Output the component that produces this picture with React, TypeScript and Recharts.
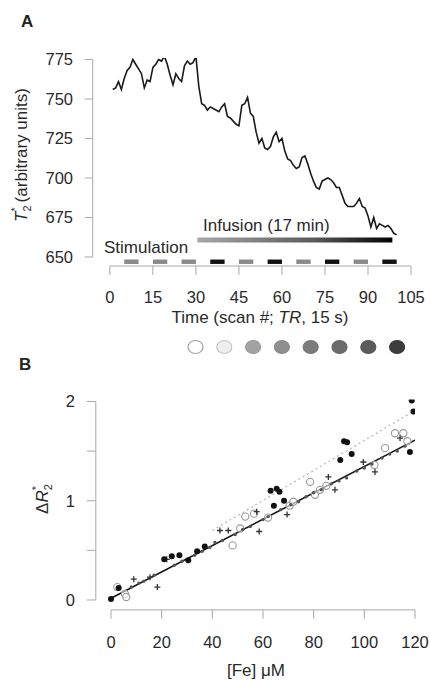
import React from 'react';
import {
  ComposedChart,
  LineChart,
  ScatterChart,
  Line,
  Scatter,
  XAxis,
  YAxis,
  ReferenceArea,
  ReferenceLine,
} from 'recharts';

const FONT = '"Liberation Sans", Arial, Helvetica, sans-serif';
const AXIS = '#a8a8a8';
const TXT = '#2a2a2a';

// ---------- Panel A data ----------
const scanNumbers = [
  1, 2, 3, 4, 5, 6, 7, 8, 9, 10, 11, 12, 13, 14, 15, 16, 17, 18, 19, 20,
  21, 22, 23, 24, 25, 26, 27, 28, 29, 30, 31, 32, 33, 34, 35, 36, 37, 38, 39, 40,
  41, 42, 43, 44, 45, 46, 47, 48, 49, 50, 51, 52, 53, 54, 55, 56, 57, 58, 59, 60,
  61, 62, 63, 64, 65, 66, 67, 68, 69, 70, 71, 72, 73, 74, 75, 76, 77, 78, 79, 80,
  81, 82, 83, 84, 85, 86, 87, 88, 89, 90, 91, 92, 93, 94, 95, 96, 97, 98, 99, 100,
];
const t2Values = [
  756, 757, 761, 756, 763, 768, 770, 775, 772, 769,
  766, 757, 762, 761, 770, 772, 775, 774, 777, 772,
  765, 759, 766, 763, 761, 771, 774, 772, 773, 777,
  758, 747, 746, 743, 745, 744, 743, 742, 745, 747,
  739, 738, 736, 734, 733, 746, 747, 751, 741, 739,
  729, 722, 725, 719, 718, 720, 726, 729, 723, 725,
  717, 712, 711, 708, 706, 707, 713, 714, 709, 703,
  698, 694, 693, 698, 699, 700, 699, 697, 694, 694,
  689, 684, 682, 682, 682, 684, 687, 682, 681, 676,
  669, 675, 668, 671, 670, 669, 670, 668, 665, 664,
];
const timeTicks = [0, 15, 30, 45, 60, 75, 90, 105];
const t2Ticks = [650, 675, 700, 725, 750, 775];
const stimStarts = [5, 15, 25, 35, 45, 55, 65, 75, 85, 95];
const stimLength = 5;
const stimShades = ['#8a8a8a', '#8a8a8a', '#8a8a8a', '#111111', '#8a8a8a', '#111111', '#8a8a8a', '#111111', '#8a8a8a', '#111111'];
const infusionStart = 30.5;
const infusionEnd = 98.5;

const seriesA = scanNumbers.map((t, i) => ({ t, v: t2Values[i] }));

// ---------- Panel B data ----------
const feTicks = [0, 20, 40, 60, 80, 100, 120];
const r2Ticks = [0, 0.5, 1, 1.5, 2];

const filledFe = [0, 3, 21, 24, 27, 30.5, 34, 37, 63, 65.4, 66.5, 64.3, 68.3, 90.5, 92, 93.2, 95, 118, 118.7, 119.4];
const filledR2 = [0.01, 0.12, 0.41, 0.44, 0.45, 0.4, 0.49, 0.54, 1.1, 1.12, 1.09, 0.95, 1.0, 1.41, 1.6, 1.59, 1.47, 1.49, 2.01, 1.9];

const openFe = [2.5, 5.5, 6, 48, 51, 53, 56.5, 62, 70.5, 72, 78.6, 80.5, 82.5, 85, 104, 108.2, 112.1, 115.4, 117];
const openR2 = [0.13, 0.06, 0.03, 0.55, 0.72, 0.84, 0.87, 0.83, 0.95, 0.99, 1.19, 1.06, 1.11, 1.15, 1.36, 1.53, 1.68, 1.68, 1.6];

const plusFe = [9, 15.4, 18.3, 22, 43, 46.3, 57.5, 58.5, 69.5, 85.8, 88.4, 99.6, 104.2, 114.1];
const plusR2 = [0.21, 0.23, 0.13, 0.41, 0.7, 0.7, 0.89, 0.69, 0.86, 1.24, 1.11, 1.39, 1.29, 1.63];

const smallFe = [8, 11, 13, 17, 25, 28, 33, 36, 39, 41, 44, 49, 52, 55, 60, 62, 67, 71, 74, 77, 80, 83, 87, 90, 93, 97, 100, 103, 107, 110, 113, 116];
const smallR2 = [0.13, 0.17, 0.19, 0.25, 0.35, 0.39, 0.45, 0.49, 0.53, 0.58, 0.6, 0.66, 0.71, 0.74, 0.81, 0.84, 0.91, 0.96, 0.99, 1.04, 1.08, 1.11, 1.17, 1.2, 1.23, 1.3, 1.33, 1.37, 1.43, 1.47, 1.5, 1.55];

const blackFitFe = [0, 120];
const blackFitR2 = [0.017, 1.61];
const grayFitFe = [40, 120];
const grayFitR2 = [0.7, 1.91];

const zip = (xs: number[], ys: number[]) => xs.map((x, i) => ({ x, y: ys[i] }));
const filledPts = zip(filledFe, filledR2);
const openPts = zip(openFe, openR2);
const plusPts = zip(plusFe, plusR2);
const smallPts = zip(smallFe, smallR2);
const blackFit = zip(blackFitFe, blackFitR2);
const grayFit = zip(grayFitFe, grayFitR2);

// ---------- sample circles row ----------
const sampleIndex = [1, 2, 3, 4, 5, 6, 7, 8];
const sampleFill = ['#ffffff', '#eeeeee', '#a3a3a3', '#8f8f8f', '#7c7c7c', '#6b6b6b', '#5b5b5b', '#3c3c3c'];
const sampleStroke = ['#a0a0a0', '#c4c4c4', '#9a9a9a', '#8a8a8a', '#777777', '#666666', '#555555', '#383838'];
const samples = sampleIndex.map((i, k) => ({ i, y: 0.5, fill: sampleFill[k], stroke: sampleStroke[k] }));

const tickStyle = { fill: TXT, fontSize: 16.5, fontFamily: FONT };

const FilledDot = (p: any) => <circle cx={p.cx} cy={p.cy} r={3} fill="#111" />;
const OpenDot = (p: any) => <circle cx={p.cx} cy={p.cy} r={3.6} fill="#fff" fillOpacity={0.6} stroke="#9a9a9a" strokeWidth={1.1} />;
const PlusMark = (p: any) => (
  <path d={`M${p.cx - 3},${p.cy}H${p.cx + 3}M${p.cx},${p.cy - 3}V${p.cy + 3}`} stroke="#333" strokeWidth={1.3} />
);
const SmallMark = (p: any) => <circle cx={p.cx} cy={p.cy} r={1.7} fill="#555" />;
const SampleDisc = (p: any) => (
  <ellipse cx={p.cx} cy={p.cy} rx={7.5} ry={6.5} fill={p.payload.fill} stroke={p.payload.stroke} strokeWidth={1.2} />
);

export default function App() {
  const yA0 = 644.3;
  const yB0 = -0.1;
  return (
    <div style={{ position: 'absolute', left: 0, top: 0, width: 430, height: 684, background: '#fff', overflow: 'hidden' }}>
      {/* Panel A */}
      <div style={{ position: 'absolute', left: 0, top: 0 }}>
        <LineChart width={430} height={340} data={seriesA} margin={{ top: 57.9, right: 19, bottom: 34, left: 0 }}>
          <defs>
            <linearGradient id="infGrad" x1="0" y1="0" x2="1" y2="0">
              <stop offset="0%" stopColor="#a8a8a8" />
              <stop offset="60%" stopColor="#5a5a5a" />
              <stop offset="100%" stopColor="#000000" />
            </linearGradient>
          </defs>
          <XAxis
            type="number"
            dataKey="t"
            domain={[-6, 105]}
            ticks={timeTicks}
            interval={0}
            allowDataOverflow
            axisLine={false}
            tickLine={{ stroke: AXIS }}
            tickSize={9}
            tickMargin={16}
            height={40}
            tick={tickStyle}
          />
          <YAxis
            type="number"
            domain={[yA0, 776]}
            ticks={t2Ticks}
            interval={0}
            allowDataOverflow
            width={92.7}
            axisLine={false}
            tickLine={{ stroke: AXIS }}
            tickSize={8}
            tickMargin={11.7}
            tick={tickStyle}
          />
          <ReferenceLine segment={[{ x: 0, y: yA0 }, { x: 105, y: yA0 }]} stroke={AXIS} ifOverflow="visible" />
          <ReferenceLine segment={[{ x: -6, y: 650 }, { x: -6, y: 775 }]} stroke={AXIS} ifOverflow="visible" />
          {stimStarts.map((s, k) => (
            <ReferenceArea
              key={s}
              x1={s}
              x2={s + stimLength}
              y1={645.6}
              y2={648.4}
              fill={stimShades[k]}
              fillOpacity={1}
              stroke="none"
              ifOverflow="visible"
            />
          ))}
          <ReferenceArea
            x1={infusionStart}
            x2={infusionEnd}
            y1={659.2}
            y2={662.4}
            fill="url(#infGrad)"
            fillOpacity={1}
            stroke="none"
            ifOverflow="visible"
          />
          <Line type="linear" dataKey="v" stroke="#1a1a1a" strokeWidth={1.6} dot={false} isAnimationActive={false} />
        </LineChart>
      </div>

      {/* sample discs */}
      <div style={{ position: 'absolute', left: 0, top: 332 }}>
        <ScatterChart width={430} height={30} margin={{ top: 0, right: 18.5, bottom: 0, left: 181.1 }}>
          <XAxis type="number" dataKey="i" domain={[0.5, 8.5]} hide />
          <YAxis type="number" dataKey="y" domain={[0, 1]} hide />
          <Scatter data={samples} dataKey="y" shape={SampleDisc} isAnimationActive={false} />
        </ScatterChart>
      </div>

      {/* Panel B */}
      <div style={{ position: 'absolute', left: 0, top: 340 }}>
        <ComposedChart width={430} height={344} margin={{ top: 59.5, right: 15, bottom: 34.1, left: 0 }}>
          <XAxis
            type="number"
            dataKey="x"
            domain={[-6, 120]}
            ticks={feTicks}
            interval={0}
            allowDataOverflow
            axisLine={false}
            tickLine={{ stroke: AXIS }}
            tickSize={9}
            tickMargin={17.5}
            height={40}
            tick={tickStyle}
          />
          <YAxis
            type="number"
            dataKey="y"
            domain={[yB0, 2.02]}
            ticks={r2Ticks}
            interval={0}
            allowDataOverflow
            width={95.8}
            axisLine={false}
            tickLine={{ stroke: AXIS }}
            tickSize={9}
            tickMargin={11.8}
            tick={tickStyle}
            tickFormatter={(v: number) => (Number.isInteger(v) ? String(v) : '')}
          />
          <ReferenceLine segment={[{ x: 0, y: yB0 }, { x: 120, y: yB0 }]} stroke={AXIS} ifOverflow="visible" />
          <ReferenceLine segment={[{ x: -6, y: 0 }, { x: -6, y: 2 }]} stroke={AXIS} ifOverflow="visible" />
          <Line data={grayFit} type="linear" dataKey="y" stroke="#b5b5b5" strokeWidth={1.2} strokeDasharray="2 3" dot={false} isAnimationActive={false} />
          <Scatter data={openPts} dataKey="y" shape={OpenDot} isAnimationActive={false} />
          <Scatter data={smallPts} dataKey="y" shape={SmallMark} isAnimationActive={false} />
          <Line data={blackFit} type="linear" dataKey="y" stroke="#151515" strokeWidth={1.6} dot={false} isAnimationActive={false} />
          <Scatter data={plusPts} dataKey="y" shape={PlusMark} isAnimationActive={false} />
          <Scatter data={filledPts} dataKey="y" shape={FilledDot} isAnimationActive={false} />
        </ComposedChart>
      </div>

      {/* Text overlay */}
      <svg width={430} height={684} style={{ position: 'absolute', left: 0, top: 0, pointerEvents: 'none' }} fontFamily={FONT}>
        <text x={21} y={27} fontSize={17} fontWeight="bold" fill="#222">A</text>
        <text x={19} y={370} fontSize={17} fontWeight="bold" fill="#222">B</text>

        <text transform="translate(27,155) rotate(-90)" textAnchor="middle" fontSize={17} fill={TXT}>
          <tspan fontStyle="italic">T</tspan>
          <tspan fontSize={11} dy={4}>2</tspan>
          <tspan fontSize={11} dx={-6} dy={-12}>*</tspan>
          <tspan dy={8}> (arbitrary units)</tspan>
        </text>
        <text x={260} y={323} textAnchor="middle" fontSize={17} fill={TXT}>
          Time (scan #; <tspan fontStyle="italic">TR</tspan>, 15 s)
        </text>
        <text x={104} y={252.5} fontSize={17} fill={TXT}>Stimulation</text>
        <text x={203} y={231} fontSize={17} fill={TXT}>Infusion (17 min)</text>

        <text transform="translate(48,499) rotate(-90)" textAnchor="middle" fontSize={17} fill={TXT}>
          <tspan>Δ</tspan>
          <tspan fontStyle="italic">R</tspan>
          <tspan fontSize={11} dy={4}>2</tspan>
          <tspan fontSize={11} dx={-6} dy={-12}>*</tspan>
        </text>
        <text x={256} y={676} textAnchor="middle" fontSize={17} fill={TXT}>[Fe] μM</text>
      </svg>
    </div>
  );
}
